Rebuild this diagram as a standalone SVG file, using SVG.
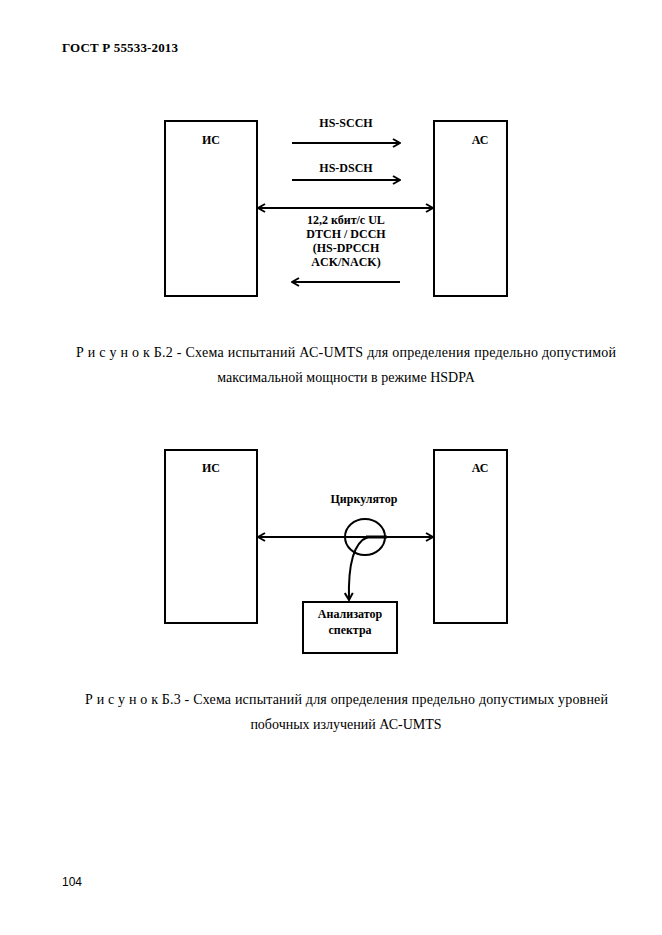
<svg xmlns="http://www.w3.org/2000/svg" width="662" height="935" viewBox="0 0 662 935">
<style>
.box{fill:none;stroke:#000;stroke-width:2}
.ln{fill:none;stroke:#000;stroke-width:2}
.lb{font-weight:bold;font-size:12px;fill:#000;text-anchor:middle}
.cap{font-size:14px;fill:#000}
</style>
<defs>
<marker id="ah" viewBox="0 0 10 10" refX="9" refY="5" markerWidth="10" markerHeight="10" markerUnits="userSpaceOnUse" orient="auto-start-reverse">
<path d="M2,1 L9,5 L2,9" fill="none" stroke="#000" stroke-width="2"/>
</marker>
</defs>
<rect width="662" height="935" fill="#fff"/>
<g font-family="Liberation Serif, serif">
<text x="62" y="52" font-weight="bold" font-size="13" textLength="116">ГОСТ Р 55533-2013</text>

<g id="fig1-is"><rect class="box" x="165" y="121" width="92" height="175"/><text class="lb" x="211" y="144">ИС</text></g>
<g id="fig1-ac"><rect class="box" x="434" y="121" width="73" height="175"/><text class="lb" x="480" y="144">АС</text></g>
<g id="fig1-labels">
<text class="lb" x="346" y="127">HS-SCCH</text>
<text class="lb" x="346" y="172">HS-DSCH</text>
<text class="lb" x="346" y="224">12,2 кбит/с UL</text>
<text class="lb" x="346" y="238">DTCH / DCCH</text>
<text class="lb" x="346" y="252">(HS-DPCCH</text>
<text class="lb" x="346" y="266">ACK/NACK)</text>
</g>
<g id="fig1-connectors">
<line class="ln" x1="292" y1="143" x2="400" y2="143" marker-end="url(#ah)"/>
<line class="ln" x1="292" y1="180" x2="400" y2="180" marker-end="url(#ah)"/>
<line class="ln" x1="258" y1="208" x2="433" y2="208" marker-start="url(#ah)" marker-end="url(#ah)"/>
<line class="ln" x1="400" y1="282" x2="292" y2="282" marker-end="url(#ah)"/>
</g>
<text class="cap" x="76" y="357" textLength="540">Р и с у н о к Б.2 - Схема испытаний АС-UMTS для определения предельно допустимой</text>
<text class="cap" x="346" y="382" text-anchor="middle">максимальной мощности в режиме HSDPA</text>

<g id="fig2-is"><rect class="box" x="165" y="450" width="92" height="173"/><text class="lb" x="211" y="472">ИС</text></g>
<g id="fig2-ac"><rect class="box" x="434" y="450" width="73" height="173"/><text class="lb" x="480" y="472">АС</text></g>
<g id="fig2-circ"><ellipse class="ln" cx="365" cy="537" rx="20" ry="18"/><text class="lb" x="364" y="503">Циркулятор</text></g>
<g id="fig2-an"><rect class="box" x="303" y="602" width="94" height="51"/><text class="lb" x="350" y="618">Анализатор</text><text class="lb" x="350" y="634">спектра</text></g>
<g id="fig2-connectors">
<line class="ln" x1="258" y1="537" x2="433" y2="537" marker-start="url(#ah)" marker-end="url(#ah)"/>
<line x1="366" y1="537" x2="387" y2="537" stroke="#000" stroke-width="3"/>
<path class="ln" d="M368,537 C354,542 348,565 349,600" marker-end="url(#ah)"/>
</g>
<text class="cap" x="85" y="704" textLength="523">Р и с у н о к Б.3 - Схема испытаний для определения предельно допустимых уровней</text>
<text class="cap" x="346" y="729" text-anchor="middle">побочных излучений АС-UMTS</text>
</g>
<text x="62" y="886" font-family="Liberation Sans, sans-serif" font-size="12">104</text>
</svg>
